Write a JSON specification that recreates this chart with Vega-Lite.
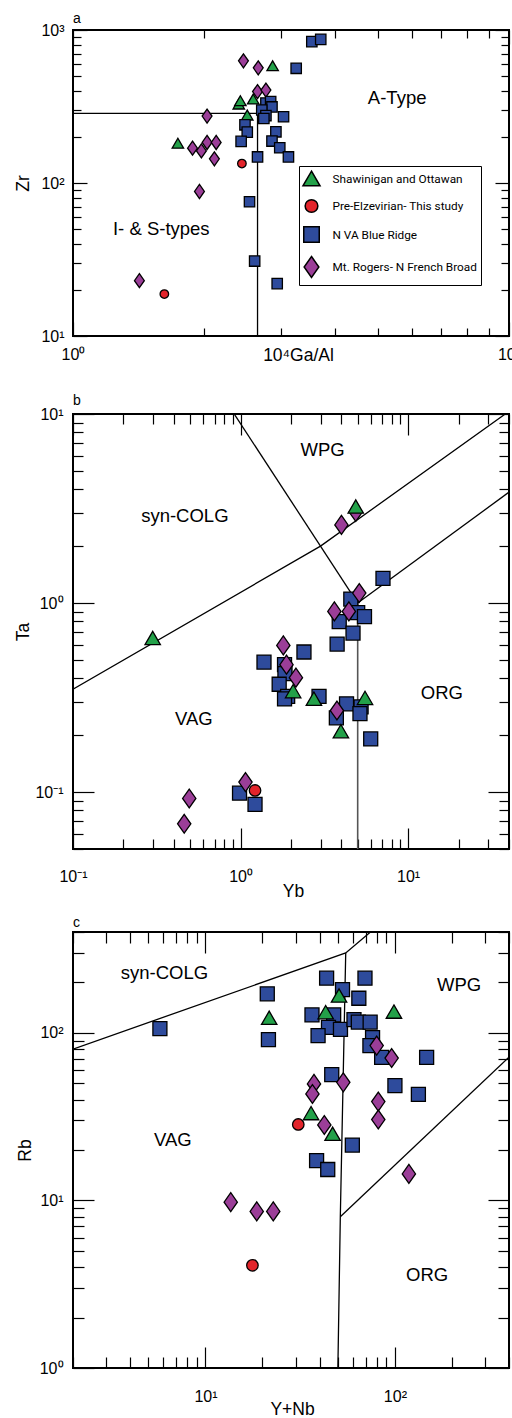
{
  "$schema": "https://vega.github.io/schema/vega-lite/v6.json",
  "background": "white",
  "padding": {"left": 13, "top": 11, "right": 0, "bottom": 0},
  "spacing": 14,
  "config": {
    "view": {"stroke": "black", "strokeWidth": 2},
    "axis": {"grid": false, "domain": false, "labelFont": "Liberation Sans", "titleFont": "Liberation Sans", "labelFontSize": 16, "titleFontSize": 17.5, "titleFontWeight": "normal", "labelColor": "black", "titleColor": "black", "tickColor": "black", "tickWidth": 1.2, "labelFlush": false, "labelOverlap": false, "labelBound": false},
    "title": {"font": "Liberation Sans", "fontSize": 14, "fontWeight": "normal", "color": "black", "anchor": "start", "frame": "group", "subtitleFont": "Liberation Sans", "subtitleFontSize": 14, "subtitleColor": "black"}
  },
  "datasets": {
    "pa": [
      {"x": 2.87, "y": 584, "g": "Shawinigan and Ottawan"},
      {"x": 2.40, "y": 328, "g": "Shawinigan and Ottawan"},
      {"x": 2.42, "y": 345, "g": "Shawinigan and Ottawan"},
      {"x": 2.59, "y": 354, "g": "Shawinigan and Ottawan"},
      {"x": 2.51, "y": 278, "g": "Shawinigan and Ottawan"},
      {"x": 1.74, "y": 182, "g": "Shawinigan and Ottawan"},
      {"x": 2.46, "y": 629, "g": "Mt. Rogers- N French Broad"},
      {"x": 2.66, "y": 566, "g": "Mt. Rogers- N French Broad"},
      {"x": 2.65, "y": 396, "g": "Mt. Rogers- N French Broad"},
      {"x": 2.77, "y": 405, "g": "Mt. Rogers- N French Broad"},
      {"x": 2.03, "y": 274, "g": "Mt. Rogers- N French Broad"},
      {"x": 1.88, "y": 169, "g": "Mt. Rogers- N French Broad"},
      {"x": 1.97, "y": 162, "g": "Mt. Rogers- N French Broad"},
      {"x": 2.03, "y": 184, "g": "Mt. Rogers- N French Broad"},
      {"x": 2.13, "y": 184, "g": "Mt. Rogers- N French Broad"},
      {"x": 2.11, "y": 144, "g": "Mt. Rogers- N French Broad"},
      {"x": 1.95, "y": 88, "g": "Mt. Rogers- N French Broad"},
      {"x": 1.42, "y": 23, "g": "Mt. Rogers- N French Broad"},
      {"x": 2.44, "y": 134, "g": "Pre-Elzevirian- This study"},
      {"x": 1.62, "y": 18.8, "g": "Pre-Elzevirian- This study"},
      {"x": 3.53, "y": 839, "g": "N VA Blue Ridge"},
      {"x": 3.70, "y": 869, "g": "N VA Blue Ridge"},
      {"x": 3.25, "y": 562, "g": "N VA Blue Ridge"},
      {"x": 2.77, "y": 333, "g": "N VA Blue Ridge"},
      {"x": 2.84, "y": 341, "g": "N VA Blue Ridge"},
      {"x": 2.86, "y": 314, "g": "N VA Blue Ridge"},
      {"x": 2.71, "y": 300, "g": "N VA Blue Ridge"},
      {"x": 2.77, "y": 276, "g": "N VA Blue Ridge"},
      {"x": 2.74, "y": 264, "g": "N VA Blue Ridge"},
      {"x": 3.04, "y": 271, "g": "N VA Blue Ridge"},
      {"x": 2.48, "y": 240, "g": "N VA Blue Ridge"},
      {"x": 2.51, "y": 215, "g": "N VA Blue Ridge"},
      {"x": 2.43, "y": 187, "g": "N VA Blue Ridge"},
      {"x": 2.92, "y": 216, "g": "N VA Blue Ridge"},
      {"x": 2.86, "y": 188, "g": "N VA Blue Ridge"},
      {"x": 2.98, "y": 170, "g": "N VA Blue Ridge"},
      {"x": 3.12, "y": 148, "g": "N VA Blue Ridge"},
      {"x": 2.65, "y": 148, "g": "N VA Blue Ridge"},
      {"x": 2.54, "y": 75.4, "g": "N VA Blue Ridge"},
      {"x": 2.61, "y": 30.9, "g": "N VA Blue Ridge"},
      {"x": 2.94, "y": 22, "g": "N VA Blue Ridge"}
    ],
    "pb": [
      {"x": 7.08, "y": 1.35, "g": "N VA Blue Ridge"},
      {"x": 4.55, "y": 1.05, "g": "N VA Blue Ridge"},
      {"x": 5.0, "y": 0.89, "g": "N VA Blue Ridge"},
      {"x": 5.49, "y": 0.847, "g": "N VA Blue Ridge"},
      {"x": 3.88, "y": 0.797, "g": "N VA Blue Ridge"},
      {"x": 4.69, "y": 0.694, "g": "N VA Blue Ridge"},
      {"x": 3.77, "y": 0.607, "g": "N VA Blue Ridge"},
      {"x": 2.39, "y": 0.551, "g": "N VA Blue Ridge"},
      {"x": 1.38, "y": 0.487, "g": "N VA Blue Ridge"},
      {"x": 1.83, "y": 0.472, "g": "N VA Blue Ridge"},
      {"x": 1.84, "y": 0.423, "g": "N VA Blue Ridge"},
      {"x": 1.70, "y": 0.372, "g": "N VA Blue Ridge"},
      {"x": 1.91, "y": 0.321, "g": "N VA Blue Ridge"},
      {"x": 1.83, "y": 0.311, "g": "N VA Blue Ridge"},
      {"x": 2.94, "y": 0.321, "g": "N VA Blue Ridge"},
      {"x": 4.29, "y": 0.293, "g": "N VA Blue Ridge"},
      {"x": 5.24, "y": 0.282, "g": "N VA Blue Ridge"},
      {"x": 5.16, "y": 0.26, "g": "N VA Blue Ridge"},
      {"x": 3.73, "y": 0.247, "g": "N VA Blue Ridge"},
      {"x": 5.98, "y": 0.191, "g": "N VA Blue Ridge"},
      {"x": 0.986, "y": 0.0987, "g": "N VA Blue Ridge"},
      {"x": 1.22, "y": 0.086, "g": "N VA Blue Ridge"},
      {"x": 4.87, "y": 3.03, "g": "Mt. Rogers- N French Broad"},
      {"x": 4.0, "y": 2.59, "g": "Mt. Rogers- N French Broad"},
      {"x": 5.11, "y": 1.13, "g": "Mt. Rogers- N French Broad"},
      {"x": 3.63, "y": 0.903, "g": "Mt. Rogers- N French Broad"},
      {"x": 4.43, "y": 0.903, "g": "Mt. Rogers- N French Broad"},
      {"x": 1.80, "y": 0.597, "g": "Mt. Rogers- N French Broad"},
      {"x": 1.88, "y": 0.472, "g": "Mt. Rogers- N French Broad"},
      {"x": 2.14, "y": 0.403, "g": "Mt. Rogers- N French Broad"},
      {"x": 3.76, "y": 0.27, "g": "Mt. Rogers- N French Broad"},
      {"x": 1.07, "y": 0.113, "g": "Mt. Rogers- N French Broad"},
      {"x": 0.494, "y": 0.0925, "g": "Mt. Rogers- N French Broad"},
      {"x": 0.461, "y": 0.068, "g": "Mt. Rogers- N French Broad"},
      {"x": 4.87, "y": 3.24, "g": "Shawinigan and Ottawan"},
      {"x": 0.299, "y": 0.653, "g": "Shawinigan and Ottawan"},
      {"x": 2.06, "y": 0.342, "g": "Shawinigan and Ottawan"},
      {"x": 2.74, "y": 0.312, "g": "Shawinigan and Ottawan"},
      {"x": 3.97, "y": 0.21, "g": "Shawinigan and Ottawan"},
      {"x": 5.53, "y": 0.315, "g": "Shawinigan and Ottawan"},
      {"x": 1.22, "y": 0.102, "g": "Pre-Elzevirian- This study"}
    ],
    "pc": [
      {"x": 5.75, "y": 106, "g": "N VA Blue Ridge"},
      {"x": 21.2, "y": 171, "g": "N VA Blue Ridge"},
      {"x": 21.5, "y": 91.2, "g": "N VA Blue Ridge"},
      {"x": 43.6, "y": 212, "g": "N VA Blue Ridge"},
      {"x": 69.5, "y": 212, "g": "N VA Blue Ridge"},
      {"x": 52.9, "y": 181, "g": "N VA Blue Ridge"},
      {"x": 64.5, "y": 161, "g": "N VA Blue Ridge"},
      {"x": 36.5, "y": 128, "g": "N VA Blue Ridge"},
      {"x": 47.5, "y": 128, "g": "N VA Blue Ridge"},
      {"x": 44.6, "y": 108, "g": "N VA Blue Ridge"},
      {"x": 39.3, "y": 96.4, "g": "N VA Blue Ridge"},
      {"x": 51.6, "y": 105, "g": "N VA Blue Ridge"},
      {"x": 60.8, "y": 120, "g": "N VA Blue Ridge"},
      {"x": 64.1, "y": 116, "g": "N VA Blue Ridge"},
      {"x": 74.0, "y": 116, "g": "N VA Blue Ridge"},
      {"x": 76.2, "y": 93.8, "g": "N VA Blue Ridge"},
      {"x": 73.8, "y": 84, "g": "N VA Blue Ridge"},
      {"x": 85.1, "y": 71.5, "g": "N VA Blue Ridge"},
      {"x": 147, "y": 71.5, "g": "N VA Blue Ridge"},
      {"x": 46.4, "y": 56.3, "g": "N VA Blue Ridge"},
      {"x": 100, "y": 48.5, "g": "N VA Blue Ridge"},
      {"x": 133, "y": 43, "g": "N VA Blue Ridge"},
      {"x": 59.6, "y": 21.4, "g": "N VA Blue Ridge"},
      {"x": 38.6, "y": 17.3, "g": "N VA Blue Ridge"},
      {"x": 44.2, "y": 15.3, "g": "N VA Blue Ridge"},
      {"x": 21.7, "y": 123, "g": "Shawinigan and Ottawan"},
      {"x": 50.7, "y": 167, "g": "Shawinigan and Ottawan"},
      {"x": 43.1, "y": 133, "g": "Shawinigan and Ottawan"},
      {"x": 98.8, "y": 134, "g": "Shawinigan and Ottawan"},
      {"x": 36.1, "y": 33.2, "g": "Shawinigan and Ottawan"},
      {"x": 46.9, "y": 25, "g": "Shawinigan and Ottawan"},
      {"x": 80.1, "y": 84, "g": "Mt. Rogers- N French Broad"},
      {"x": 96.1, "y": 70.8, "g": "Mt. Rogers- N French Broad"},
      {"x": 37.4, "y": 49.6, "g": "Mt. Rogers- N French Broad"},
      {"x": 36.7, "y": 43.2, "g": "Mt. Rogers- N French Broad"},
      {"x": 53.4, "y": 50.7, "g": "Mt. Rogers- N French Broad"},
      {"x": 81.7, "y": 38.9, "g": "Mt. Rogers- N French Broad"},
      {"x": 81.7, "y": 30.4, "g": "Mt. Rogers- N French Broad"},
      {"x": 42.4, "y": 28.2, "g": "Mt. Rogers- N French Broad"},
      {"x": 118.5, "y": 14.4, "g": "Mt. Rogers- N French Broad"},
      {"x": 13.6, "y": 9.77, "g": "Mt. Rogers- N French Broad"},
      {"x": 18.65, "y": 8.6, "g": "Mt. Rogers- N French Broad"},
      {"x": 22.8, "y": 8.6, "g": "Mt. Rogers- N French Broad"},
      {"x": 30.9, "y": 28.4, "g": "Pre-Elzevirian- This study"},
      {"x": 17.7, "y": 4.1, "g": "Pre-Elzevirian- This study"}
    ],
    "la": [
      {"seg": 1, "i": 1, "x": 1, "y": 285},
      {"seg": 1, "i": 2, "x": 2.65, "y": 285},
      {"seg": 2, "i": 1, "x": 2.65, "y": 285},
      {"seg": 2, "i": 2, "x": 2.65, "y": 10}
    ],
    "lb": [
      {"seg": 1, "i": 1, "x": 0.1, "y": 0.35},
      {"seg": 1, "i": 2, "x": 3, "y": 2},
      {"seg": 1, "i": 3, "x": 38, "y": 10},
      {"seg": 2, "i": 1, "x": 0.55, "y": 20},
      {"seg": 2, "i": 2, "x": 5, "y": 1},
      {"seg": 3, "i": 1, "x": 5, "y": 1},
      {"seg": 3, "i": 2, "x": 100, "y": 7},
      {"seg": 4, "i": 1, "x": 5, "y": 0.05},
      {"seg": 4, "i": 2, "x": 5, "y": 1}
    ],
    "lc": [
      {"seg": 1, "i": 1, "x": 2, "y": 80},
      {"seg": 1, "i": 2, "x": 55, "y": 300},
      {"seg": 1, "i": 3, "x": 400, "y": 2000},
      {"seg": 2, "i": 1, "x": 55, "y": 300},
      {"seg": 2, "i": 2, "x": 51.5, "y": 8},
      {"seg": 2, "i": 3, "x": 50, "y": 1},
      {"seg": 3, "i": 1, "x": 51.5, "y": 8},
      {"seg": 3, "i": 2, "x": 2000, "y": 400}
    ],
    "ta": [
      {"label": "A-Type", "x": 5.54, "y": 361},
      {"label": "I- & S-types", "x": 1.594, "y": 49.8}
    ],
    "tb": [
      {"label": "WPG", "x": 3.09, "y": 6.45},
      {"label": "syn-COLG", "x": 0.465, "y": 2.90},
      {"label": "VAG", "x": 0.526, "y": 0.245},
      {"label": "ORG", "x": 15.9, "y": 0.335}
    ],
    "tc": [
      {"label": "syn-COLG", "x": 6.08, "y": 228},
      {"label": "WPG", "x": 218, "y": 194},
      {"label": "VAG", "x": 6.73, "y": 23.0},
      {"label": "ORG", "x": 148, "y": 3.57}
    ]
  },
  "vconcat": [
    {
      "width": 436,
      "height": 306,
      "title": {"text": "a", "offset": -15, "baseline": "alphabetic"},
      "resolve": {"axis": {"x": "independent", "y": "independent"}},
      "layer": [
        {
          "data": {"name": "la"},
          "mark": {"type": "line", "color": "black", "strokeWidth": 1.3, "clip": true},
          "encoding": {
            "x": {"field": "x", "type": "quantitative", "scale": {"type": "log", "domain": [1, 10], "nice": false},
              "axis": {"orient": "top", "labels": false, "title": null, "values": [1,2,3,4,5,6,7,8,9,10],
                "tickSize": {"condition": {"test": "abs(log(datum.value)/LN10 - round(log(datum.value)/LN10)) < 0.001", "value": -14}, "value": -8}}},
            "y": {"field": "y", "type": "quantitative", "scale": {"type": "log", "domain": [10, 1000], "nice": false},
              "axis": {"orient": "right", "labels": false, "title": null, "values": [10,20,30,40,50,60,70,80,90,100,200,300,400,500,600,700,800,900,1000],
                "tickSize": {"condition": {"test": "abs(log(datum.value)/LN10 - round(log(datum.value)/LN10)) < 0.001", "value": -14}, "value": -8}}},
            "detail": {"field": "seg", "type": "nominal"},
            "order": {"field": "i", "type": "quantitative"}
          }
        },
        {
          "data": {"name": "ta"},
          "mark": {"type": "text", "font": "Liberation Sans", "fontSize": 18.5, "color": "black", "align": "center", "baseline": "middle"},
          "encoding": {
            "x": {"field": "x", "type": "quantitative", "scale": {"type": "log", "domain": [1, 10], "nice": false}, "axis": null},
            "y": {"field": "y", "type": "quantitative", "scale": {"type": "log", "domain": [10, 1000], "nice": false}, "axis": null},
            "text": {"field": "label", "type": "nominal"}
          }
        },
        {
          "data": {"name": "pa"},
          "mark": {"type": "point", "filled": true, "stroke": "black", "strokeWidth": 1.3, "opacity": 1, "size": 108},
          "encoding": {
            "x": {"field": "x", "type": "quantitative", "scale": {"type": "log", "domain": [1, 10], "nice": false},
              "axis": {"values": [1,2,3,4,5,6,7,8,9,10],
                "labelExpr": "datum.value == 1 ? '10⁰' : datum.value == 10 ? '10¹' : ''",
                "tickSize": {"condition": {"test": "abs(log(datum.value)/LN10 - round(log(datum.value)/LN10)) < 0.001", "value": -14}, "value": -8},
                "labelPadding": 24, "title": "10⁴Ga/Al", "titleX": 225, "titleY": 19, "titleBaseline": "middle", "titleAlign": "center"}},
            "y": {"field": "y", "type": "quantitative", "scale": {"type": "log", "domain": [10, 1000], "nice": false},
              "axis": {"values": [10,20,30,40,50,60,70,80,90,100,200,300,400,500,600,700,800,900,1000],
                "labelExpr": "datum.value == 10 ? '10¹' : datum.value == 100 ? '10²' : datum.value == 1000 ? '10³' : ''",
                "tickSize": {"condition": {"test": "abs(log(datum.value)/LN10 - round(log(datum.value)/LN10)) < 0.001", "value": -14}, "value": -8},
                "labelPadding": 23, "title": "Zr", "titleX": -50, "titleBaseline": "middle"}},
            "color": {"field": "g", "type": "nominal",
              "scale": {"domain": ["Shawinigan and Ottawan", "Pre-Elzevirian- This study", "N VA Blue Ridge", "Mt. Rogers- N French Broad"], "range": ["#23a149", "#e3242b", "#2e4b9c", "#9b3e98"]},
              "legend": {"title": null, "orient": "none", "legendX": 226, "legendY": 136, "symbolSize": 240, "symbolStrokeColor": "black", "symbolStrokeWidth": 1.5, "labelFont": "Roboto", "labelFontSize": 11.8, "labelColor": "black", "labelOffset": 12.5, "rowPadding": 7.5, "padding": 4, "strokeColor": "black", "fillColor": "white", "labelLimit": 300,
                "encode": {"legend": {"update": {"strokeWidth": {"value": 2}}}}}},
            "shape": {"field": "g", "type": "nominal",
              "scale": {"domain": ["Shawinigan and Ottawan", "Pre-Elzevirian- This study", "N VA Blue Ridge", "Mt. Rogers- N French Broad"], "range": ["M0,-0.95L1.1,0.95L-1.1,0.95Z", "M0.82,0A0.82,0.82,0,1,1,-0.82,0A0.82,0.82,0,1,1,0.82,0Z", "M-1,-1L1,-1L1,1L-1,1Z", "M0,-1.35L0.95,0L0,1.35L-0.95,0Z"]},
              "legend": {"title": null, "orient": "none", "legendX": 226, "legendY": 136, "symbolSize": 240, "symbolStrokeColor": "black", "symbolStrokeWidth": 1.5, "labelFont": "Roboto", "labelFontSize": 11.8, "labelColor": "black", "labelOffset": 12.5, "rowPadding": 7.5, "padding": 4, "strokeColor": "black", "fillColor": "white", "labelLimit": 300,
                "encode": {"legend": {"update": {"strokeWidth": {"value": 2}}}}}}
          }
        }
      ]
    },
    {
      "width": 436,
      "height": 435,
      "title": {"text": " ", "fontSize": 9, "subtitle": "b", "subtitlePadding": 1, "offset": -2},
      "resolve": {"axis": {"x": "independent", "y": "independent"}},
      "layer": [
        {
          "data": {"name": "lb"},
          "transform": [{"filter": "datum.seg != 4"}],
          "mark": {"type": "line", "color": "black", "strokeWidth": 1.3, "clip": true},
          "encoding": {
            "x": {"field": "x", "type": "quantitative", "scale": {"type": "log", "domain": [0.1, 40], "nice": false},
              "axis": {"orient": "top", "labels": false, "title": null, "values": [0.1,0.2,0.3,0.4,0.5,0.6,0.7,0.8,0.9,1,2,3,4,5,6,7,8,9,10,20,30,40],
                "tickSize": {"condition": {"test": "abs(log(datum.value)/LN10 - round(log(datum.value)/LN10)) < 0.001", "value": -21}, "value": -10}}},
            "y": {"field": "y", "type": "quantitative", "scale": {"type": "log", "domain": [0.05, 10], "nice": false},
              "axis": {"orient": "right", "labels": false, "title": null, "values": [0.05,0.06,0.07,0.08,0.09,0.1,0.2,0.3,0.4,0.5,0.6,0.7,0.8,0.9,1,2,3,4,5,6,7,8,9,10],
                "tickSize": {"condition": {"test": "abs(log(datum.value)/LN10 - round(log(datum.value)/LN10)) < 0.001", "value": -21}, "value": -10}}},
            "detail": {"field": "seg", "type": "nominal"},
            "order": {"field": "i", "type": "quantitative"}
          }
        },
        {
          "data": {"name": "lb"},
          "transform": [{"filter": "datum.seg == 4"}],
          "mark": {"type": "line", "color": "#555555", "strokeWidth": 1.6, "clip": true},
          "encoding": {
            "x": {"field": "x", "type": "quantitative", "scale": {"type": "log", "domain": [0.1, 40], "nice": false}, "axis": null},
            "y": {"field": "y", "type": "quantitative", "scale": {"type": "log", "domain": [0.05, 10], "nice": false}, "axis": null},
            "order": {"field": "i", "type": "quantitative"}
          }
        },
        {
          "data": {"name": "tb"},
          "mark": {"type": "text", "font": "Liberation Sans", "fontSize": 18.5, "color": "black", "align": "center", "baseline": "middle"},
          "encoding": {
            "x": {"field": "x", "type": "quantitative", "scale": {"type": "log", "domain": [0.1, 40], "nice": false}, "axis": null},
            "y": {"field": "y", "type": "quantitative", "scale": {"type": "log", "domain": [0.05, 10], "nice": false}, "axis": null},
            "text": {"field": "label", "type": "nominal"}
          }
        },
        {
          "data": {"name": "pb"},
          "mark": {"type": "point", "filled": true, "stroke": "black", "strokeWidth": 1.3, "opacity": 1, "size": 196},
          "encoding": {
            "x": {"field": "x", "type": "quantitative", "scale": {"type": "log", "domain": [0.1, 40], "nice": false},
              "axis": {"values": [0.1,0.2,0.3,0.4,0.5,0.6,0.7,0.8,0.9,1,2,3,4,5,6,7,8,9,10,20,30,40],
                "labelExpr": "datum.value == 0.1 ? '10⁻¹' : datum.value == 1 ? '10⁰' : datum.value == 10 ? '10¹' : ''",
                "tickSize": {"condition": {"test": "abs(log(datum.value)/LN10 - round(log(datum.value)/LN10)) < 0.001", "value": -21}, "value": -10},
                "labelPadding": 40, "title": "Yb", "titleX": 220, "titleY": 42, "titleBaseline": "middle", "titleAlign": "center"}},
            "y": {"field": "y", "type": "quantitative", "scale": {"type": "log", "domain": [0.05, 10], "nice": false},
              "axis": {"values": [0.05,0.06,0.07,0.08,0.09,0.1,0.2,0.3,0.4,0.5,0.6,0.7,0.8,0.9,1,2,3,4,5,6,7,8,9,10],
                "labelExpr": "datum.value == 0.1 ? '10⁻¹' : datum.value == 1 ? '10⁰' : datum.value == 10 ? '10¹' : ''",
                "tickSize": {"condition": {"test": "abs(log(datum.value)/LN10 - round(log(datum.value)/LN10)) < 0.001", "value": -21}, "value": -10},
                "labelPadding": 31, "title": "Ta", "titleX": -50, "titleBaseline": "middle"}},
            "color": {"field": "g", "type": "nominal", "legend": null,
              "scale": {"domain": ["Shawinigan and Ottawan", "Pre-Elzevirian- This study", "N VA Blue Ridge", "Mt. Rogers- N French Broad"], "range": ["#23a149", "#e3242b", "#2e4b9c", "#9b3e98"]}},
            "shape": {"field": "g", "type": "nominal", "legend": null,
              "scale": {"domain": ["Shawinigan and Ottawan", "Pre-Elzevirian- This study", "N VA Blue Ridge", "Mt. Rogers- N French Broad"], "range": ["M0,-0.95L1.1,0.95L-1.1,0.95Z", "M0.82,0A0.82,0.82,0,1,1,-0.82,0A0.82,0.82,0,1,1,0.82,0Z", "M-1,-1L1,-1L1,1L-1,1Z", "M0,-1.35L0.95,0L0,1.35L-0.95,0Z"]}}
          }
        }
      ]
    },
    {
      "width": 436,
      "height": 436,
      "title": {"text": "c", "offset": -17, "baseline": "alphabetic"},
      "resolve": {"axis": {"x": "independent", "y": "independent"}},
      "layer": [
        {
          "data": {"name": "lc"},
          "mark": {"type": "line", "color": "black", "strokeWidth": 1.3, "clip": true},
          "encoding": {
            "x": {"field": "x", "type": "quantitative", "scale": {"type": "log", "domain": [2, 400], "nice": false},
              "axis": {"orient": "top", "labels": false, "title": null, "values": [2,3,4,5,6,7,8,9,10,20,30,40,50,60,70,80,90,100,200,300,400],
                "tickSize": {"condition": {"test": "abs(log(datum.value)/LN10 - round(log(datum.value)/LN10)) < 0.001", "value": -21}, "value": -11}}},
            "y": {"field": "y", "type": "quantitative", "scale": {"type": "log", "domain": [1, 400], "nice": false},
              "axis": {"orient": "right", "labels": false, "title": null, "values": [1,2,3,4,5,6,7,8,9,10,20,30,40,50,60,70,80,90,100,200,300,400],
                "tickSize": {"condition": {"test": "abs(log(datum.value)/LN10 - round(log(datum.value)/LN10)) < 0.001", "value": -21}, "value": -11}}},
            "detail": {"field": "seg", "type": "nominal"},
            "order": {"field": "i", "type": "quantitative"}
          }
        },
        {
          "data": {"name": "tc"},
          "mark": {"type": "text", "font": "Liberation Sans", "fontSize": 18.5, "color": "black", "align": "center", "baseline": "middle"},
          "encoding": {
            "x": {"field": "x", "type": "quantitative", "scale": {"type": "log", "domain": [2, 400], "nice": false}, "axis": null},
            "y": {"field": "y", "type": "quantitative", "scale": {"type": "log", "domain": [1, 400], "nice": false}, "axis": null},
            "text": {"field": "label", "type": "nominal"}
          }
        },
        {
          "data": {"name": "pc"},
          "mark": {"type": "point", "filled": true, "stroke": "black", "strokeWidth": 1.3, "opacity": 1, "size": 196},
          "encoding": {
            "x": {"field": "x", "type": "quantitative", "scale": {"type": "log", "domain": [2, 400], "nice": false},
              "axis": {"values": [2,3,4,5,6,7,8,9,10,20,30,40,50,60,70,80,90,100,200,300,400],
                "labelExpr": "datum.value == 10 ? '10¹' : datum.value == 100 ? '10²' : ''",
                "tickSize": {"condition": {"test": "abs(log(datum.value)/LN10 - round(log(datum.value)/LN10)) < 0.001", "value": -21}, "value": -11},
                "labelPadding": 41, "title": "Y+Nb", "titleX": 219, "titleY": 41, "titleBaseline": "middle", "titleAlign": "center"}},
            "y": {"field": "y", "type": "quantitative", "scale": {"type": "log", "domain": [1, 400], "nice": false},
              "axis": {"values": [1,2,3,4,5,6,7,8,9,10,20,30,40,50,60,70,80,90,100,200,300,400],
                "labelExpr": "datum.value == 1 ? '10⁰' : datum.value == 10 ? '10¹' : datum.value == 100 ? '10²' : ''",
                "tickSize": {"condition": {"test": "abs(log(datum.value)/LN10 - round(log(datum.value)/LN10)) < 0.001", "value": -21}, "value": -11},
                "labelPadding": 31, "title": "Rb", "titleX": -48, "titleBaseline": "middle"}},
            "color": {"field": "g", "type": "nominal", "legend": null,
              "scale": {"domain": ["Shawinigan and Ottawan", "Pre-Elzevirian- This study", "N VA Blue Ridge", "Mt. Rogers- N French Broad"], "range": ["#23a149", "#e3242b", "#2e4b9c", "#9b3e98"]}},
            "shape": {"field": "g", "type": "nominal", "legend": null,
              "scale": {"domain": ["Shawinigan and Ottawan", "Pre-Elzevirian- This study", "N VA Blue Ridge", "Mt. Rogers- N French Broad"], "range": ["M0,-0.95L1.1,0.95L-1.1,0.95Z", "M0.82,0A0.82,0.82,0,1,1,-0.82,0A0.82,0.82,0,1,1,0.82,0Z", "M-1,-1L1,-1L1,1L-1,1Z", "M0,-1.35L0.95,0L0,1.35L-0.95,0Z"]}}
          }
        }
      ]
    }
  ]
}
